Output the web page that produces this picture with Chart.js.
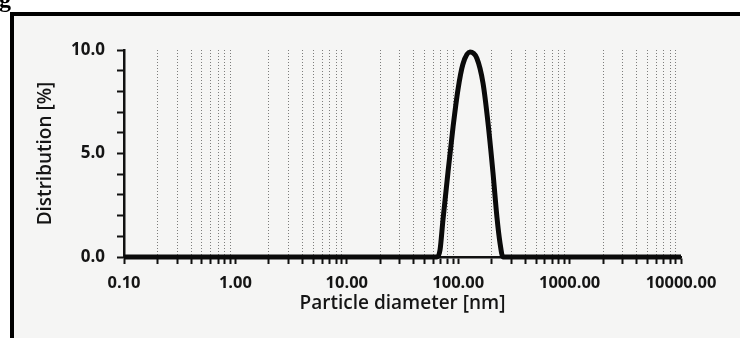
<!DOCTYPE html>
<html>
<head>
<meta charset="utf-8">
<script src="https://cdn.jsdelivr.net/npm/chart.js@4"></script>
<style>
html,body{margin:0;padding:0;background:#fff;}
#wrap{position:relative;width:740px;height:338px;overflow:hidden;background:#fff;}
#paper{position:absolute;left:14px;top:16px;right:0;bottom:0;background:#f5f5f4;}
#frameTop{position:absolute;left:10px;top:12px;width:730px;height:4px;background:#000;}
#frameLeft{position:absolute;left:10px;top:12px;width:4px;height:326px;background:#000;}
#fig{position:absolute;left:-1px;top:-13px;font:bold 24px/24px "Liberation Serif",serif;color:#000;}
canvas{position:absolute;left:0;top:0;}
</style>
</head>
<body>
<div id="wrap">
  <div id="paper"></div>
  <canvas id="c" width="740" height="338"></canvas>
  <div id="frameTop"></div>
  <div id="frameLeft"></div>
  <div id="fig">g</div>
</div>
<script>
// Particle diameter [nm] and distribution [%]
const diameters    = [0.1, 64.6, 68.7, 73, 81, 90, 99.6, 110, 127.6, 147, 167, 185, 205, 223, 237, 252, 10000];
const distribution = [0,   0,    0.34, 1.8, 4.1, 6.3, 8.1, 9.3, 9.9,  9.6, 8.4, 6.5, 4.1, 1.9, 0.7, 0,   0];

// Axis ticks
const xDecades     = [0.1, 1, 10, 100, 1000, 10000];
const xTickLabels  = ['0.10', '1.00', '10.00', '100.00', '1000.00', '10000.00'];
const xMinorSteps  = [1, 2, 3, 4, 5, 6, 7, 8, 9];
const yMajorLabels = ['0.0', '5.0', '10.0'];

const points = diameters.map((d, i) => ({x: d, y: distribution[i]}));

function isDecade(v) {
  return xDecades.some(d => Math.abs(v - d) / d < 1e-6);
}

const textColor = '#151515';
const fam = '"Open Sans", sans-serif';

new Chart(document.getElementById('c'), {
  type: 'line',
  data: {
    datasets: [{
      data: points,
      borderColor: '#0a0a0a',
      borderWidth: 5,
      pointRadius: 0,
      fill: false,
      cubicInterpolationMode: 'monotone',
      clip: false
    }]
  },
  options: {
    responsive: false,
    animation: false,
    devicePixelRatio: 1,
    layout: {padding: {left: 0, right: 59, top: 50, bottom: 0}},
    plugins: {legend: {display: false}, tooltip: {enabled: false}},
    scales: {
      x: {
        type: 'logarithmic',
        min: 0.1,
        max: 10000,
        afterBuildTicks: (scale) => {
          const t = [];
          xDecades.forEach((d, i) => {
            if (i === xDecades.length - 1) {
              t.push({value: d, major: true});
            } else {
              xMinorSteps.forEach(m => {
                const v = +(d * m).toPrecision(6);
                t.push({value: v, major: m === 1});
              });
            }
          });
          scale.ticks = t;
        },
        afterFit: (scale) => { scale.height = 81; },
        ticks: {
          autoSkip: false,
          maxRotation: 0,
          padding: 9,
          color: textColor,
          font: {family: fam, size: 16.5, weight: 'bold'},
          callback: (v) => {
            const i = xDecades.findIndex(d => Math.abs(v - d) / d < 1e-6);
            return i >= 0 ? xTickLabels[i] : '';
          }
        },
        grid: {
          display: true,
          drawOnChartArea: true,
          drawTicks: true,
          tickLength: 7,
          tickWidth: 2,
          tickColor: '#111',
          lineWidth: 1,
          color: (ctx) => (ctx.tick && !isDecade(ctx.tick.value)) ? 'rgba(60,60,60,0.65)' : 'rgba(0,0,0,0)'
        },
        border: {display: true, color: '#111', width: 2.5, dash: [1, 2]},
        title: {
          display: true,
          text: 'Particle diameter [nm]',
          color: textColor,
          font: {family: fam, size: 19, weight: '600'},
          padding: {top: 0, bottom: 23}
        }
      },
      y: {
        min: 0,
        max: 10,
        afterFit: (scale) => { scale.width = 124; },
        ticks: {
          stepSize: 1,
          autoSkip: false,
          padding: 12,
          color: textColor,
          font: {family: fam, size: 17, weight: 'bold'},
          callback: (v) => (v % 5 === 0) ? yMajorLabels[v / 5] : ''
        },
        grid: {
          display: true,
          drawOnChartArea: false,
          drawTicks: true,
          tickLength: 7,
          tickWidth: 2,
          tickColor: '#111'
        },
        border: {display: true, color: '#111', width: 2.5},
        title: {
          display: true,
          text: 'Distribution [%]',
          color: textColor,
          font: {family: fam, size: 19, weight: '600'},
          padding: {top: 34, bottom: 0}
        }
      }
    }
  }
});
</script>
</body>
</html>
